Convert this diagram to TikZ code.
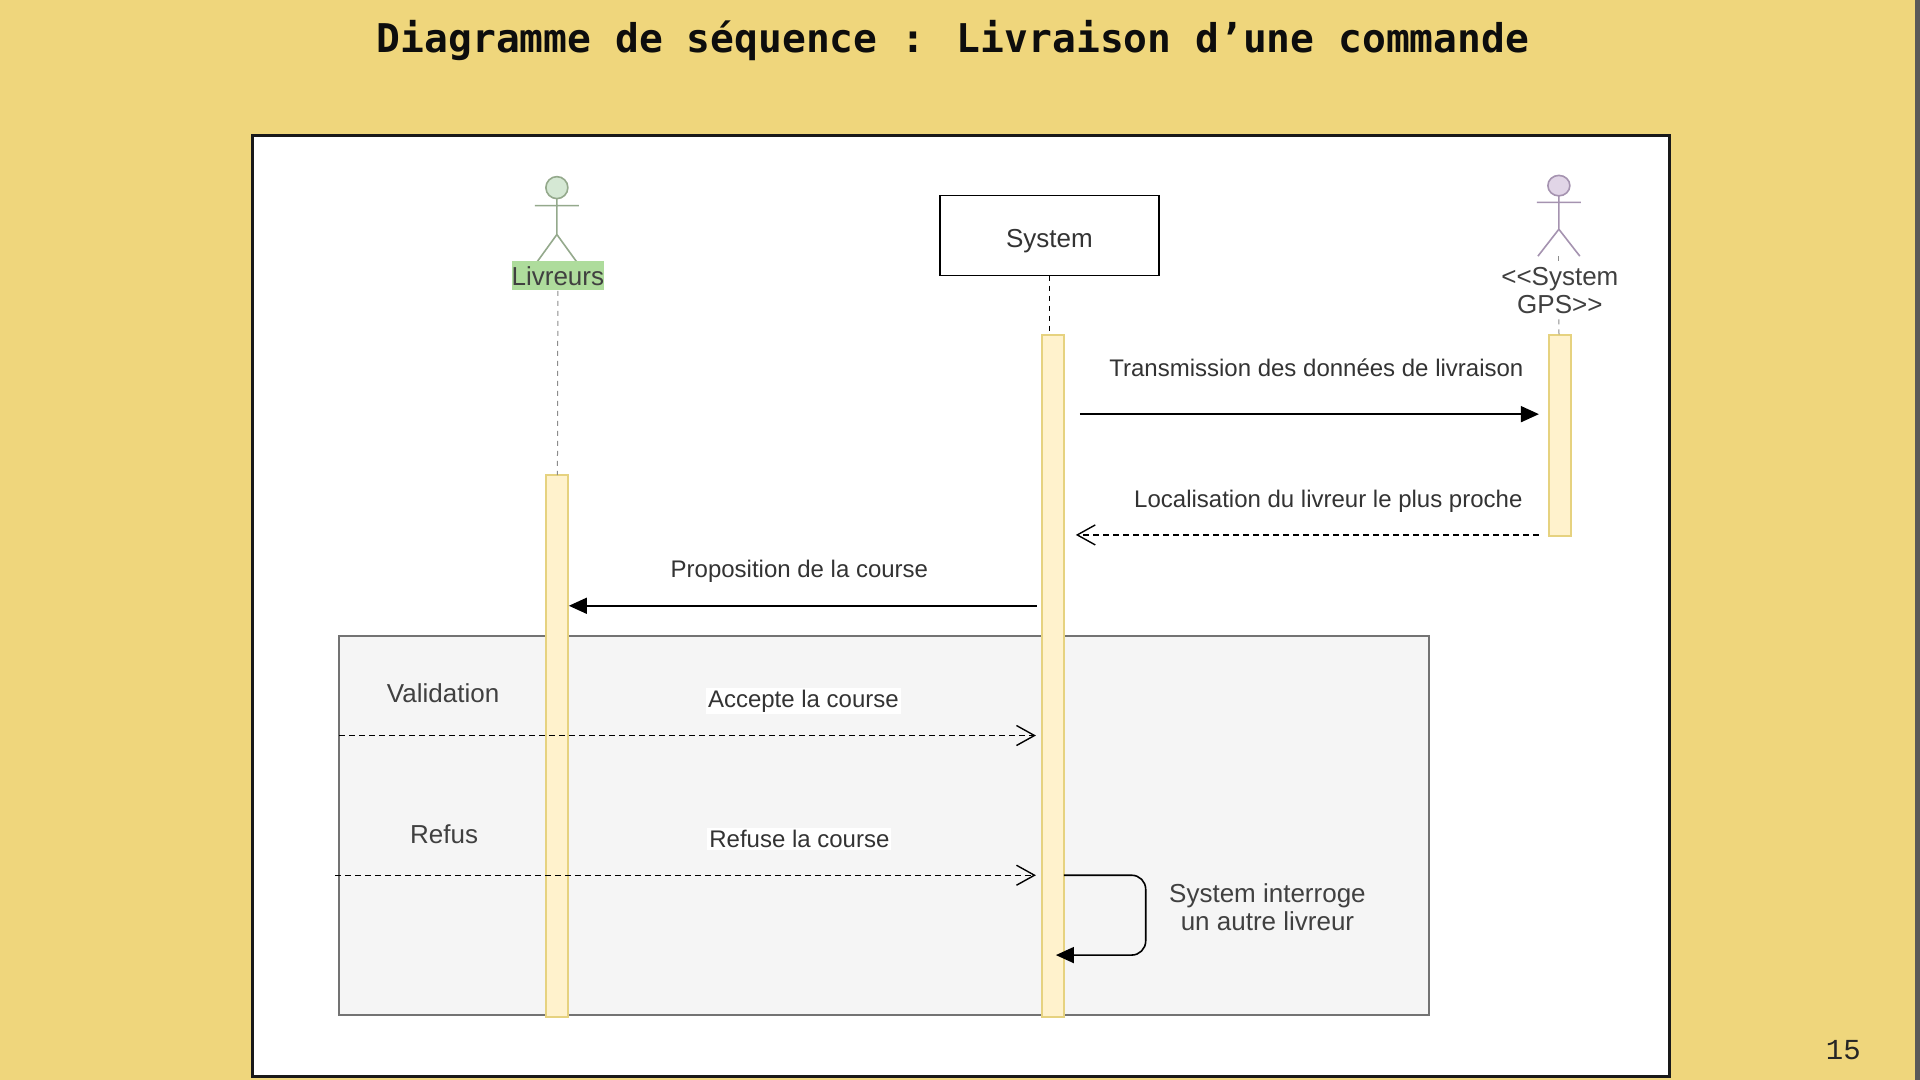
\documentclass[tikz,border=0pt]{standalone}
\usepackage{fontspec}
\setmainfont{Liberation Sans}
\newfontfamily\titlefont{DejaVu Sans Mono}
\newfontfamily\pagefont{Liberation Mono}
\usetikzlibrary{arrows.meta}
\definecolor{slidebg}{HTML}{EFD67C}
\definecolor{barfill}{HTML}{FFF2CC}
\definecolor{barline}{HTML}{E6D27F}
\definecolor{greenhead}{HTML}{D5E8D4}
\definecolor{greenline}{HTML}{94A98C}
\definecolor{purplehead}{HTML}{E1D5E7}
\definecolor{purpleline}{HTML}{A593B0}
\definecolor{labelgreen}{HTML}{AEDC9C}
\tikzset{
    msg/.style={font=\fontsize{12}{14}\selectfont,text=black!80,inner sep=1pt},
    note/.style={font=\fontsize{13}{14}\selectfont,text=black!75,inner sep=1pt,align=center},
    actbar/.style={draw=barline,fill=barfill,line width=1pt,minimum width=11pt,inner sep=0pt,outer sep=0pt,anchor=north},
    lifeline/.style={dash pattern=on 2.5pt off 2.5pt,line width=.5pt},
    sync/.style={-{Triangle[length=9pt,width=8pt]},line width=.8pt},
    reply/.style={-{Straight Barb[length=9pt,width=10pt]},dash pattern=on 3pt off 2pt,line width=.7pt},
    pics/stickman/.style 2 args={code={
        \draw[#1,line width=.8pt,fill=#2] (0,0) circle (5.5pt);
        \draw[#1,line width=.8pt] (0,11) -- (0,47) (-22,18) -- (22,18) (-21,76) -- (0,47) -- (21,76);
    }}
}
\begin{document}
\begin{tikzpicture}[x=.499pt,y=-.499pt,>=stealth]
        \useasboundingbox (0pt,0pt) rectangle (960pt,-540pt);
        \fill[slidebg] (0pt,0pt) rectangle (960pt,-540pt);
        \fill[black!65] (957.5pt,0pt) rectangle (960pt,-540pt);
        \draw[black!90,fill=white,line width=1.5pt] (253,136) rectangle (1673,1079);

        \node[font=\titlefont\bfseries\fontsize{19.8}{24}\selectfont,text=black!95,inner sep=0pt] (title) at (955,41) {Diagramme de séquence : Livraison d’une commande};
        \node[font=\pagefont\fontsize{14.5}{16}\selectfont,text=black!85,inner sep=0pt] (pagenum) at (1847,1052) {15};

        % combined fragment
        \node[draw=black!55,fill=black!4,line width=.8pt,inner sep=0pt,outer sep=0pt,minimum width=545pt,minimum height=189.5pt] (frag) at (886,827) {};

        % participants
        \pic at (558,188) {stickman={greenline}{greenhead}};
        \pic[yscale=.93] at (1562,186) {stickman={purpleline}{purplehead}};
        \node[fill=labelgreen,text=black!75,font=\fontsize{13}{14}\selectfont,inner sep=0pt,minimum width=46pt,minimum height=14.5pt] (livreurs) at (559,276.5) {Livreurs};
        \node[draw=black,fill=white,line width=.9pt,font=\fontsize{13}{14}\selectfont,text=black!80,text height=14.5pt,text depth=2.9pt,inner sep=0pt,outer sep=0pt,minimum width=109.5pt,minimum height=40pt] (system) at (1051.5,236) {System};
        \node[note] (gps) at (1563,291) {<{}<System\\GPS>{}>};

        % activation bars
        \node[actbar,minimum height=271pt] (barL) at (558,476) {};
        \node[actbar,minimum height=341pt] (barS) at (1055,336) {};
        \node[actbar,minimum height=100.5pt] (barG) at (1563,336) {};

        % lifelines
        \draw[lifeline,black!45] (livreurs) -- (barL);
        \draw[lifeline,black] (system) -- (1051.5,336) coordinate (sysfoot);
        \draw[lifeline,black!45] (1562,257) coordinate (gpship) -- (1562,264);
        \draw[lifeline,black!45] (1562,320) coordinate (gpstop) -- (barG);

        % message ends
        \coordinate (m1a) at (1082,415);
        \coordinate (m1b) at (1542,415);
        \coordinate (m2a) at (1542,536);
        \coordinate (m2b) at (1078,536);
        \coordinate (m3a) at (1039,607);
        \coordinate (m3b) at (570,607);
        \coordinate (m4a) at (340,737);
        \coordinate (m4b) at (1038,737);
        \coordinate (m5a) at (336,877);
        \coordinate (m5b) at (1038,877);
        \coordinate (s1) at (1066,877);
        \coordinate (s2) at (1148,877);
        \coordinate (s3) at (1148,957);
        \coordinate (s4) at (1058,957);

        \draw[sync] (m1a) -- (m1b);
        \draw[reply] (m2a) -- (m2b);
        \draw[sync] (m3a) -- (m3b);
        \draw[reply] (m4a) -- (m4b);
        \draw[reply] (m5a) -- (m5b);
        \draw[sync,rounded corners=7pt] (s1) -- (s2) -- (s3) -- (s4);

        % labels
        \node[msg] (t1) at (1319,369) {Transmission des données de livraison};
        \node[msg] (t2) at (1331,502) {Localisation du livreur le plus proche};
        \node[msg] (t3) at (801,572) {Proposition de la course};
        \node[msg,fill=white] (t4) at (805,702.5) {Accepte la course};
        \node[msg,fill=white] (t5) at (801,840.5) {Refuse la course};
        \node[note] (valid) at (444,695) {Validation};
        \node[note] (refus) at (445,835.5) {Refus};
        \node[note] (again) at (1270,909) {System interroge\\un autre livreur};
\end{tikzpicture}
\end{document}
